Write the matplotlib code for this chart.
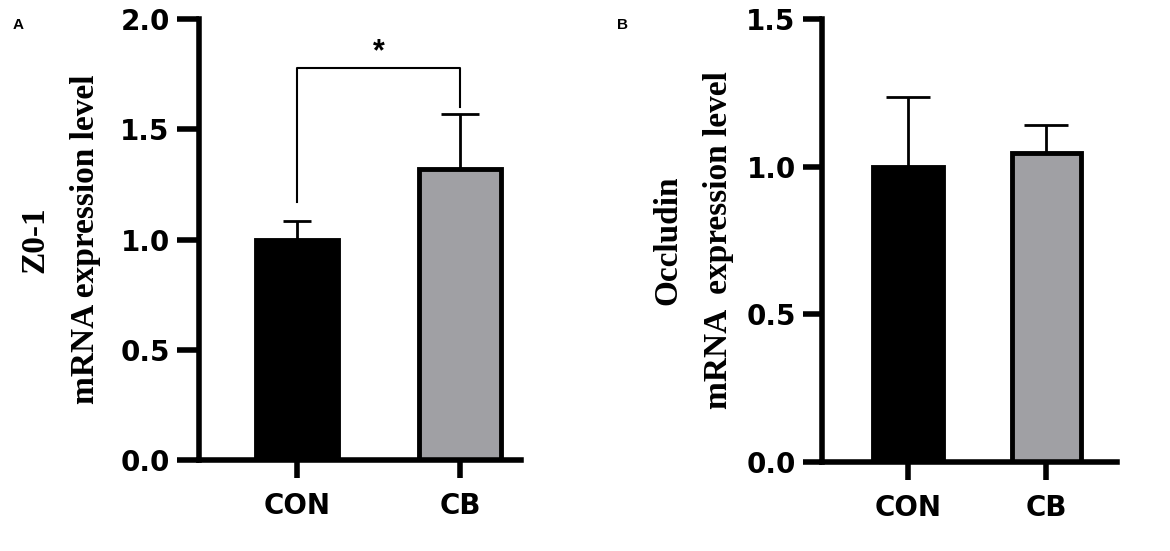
import numpy as np
import matplotlib.pyplot as plt

# data
groups = ["CON", "CB"]
zo1_mean = [1.00, 1.32]
zo1_err = [0.084, 0.25]
occ_mean = [1.00, 1.048]
occ_err = [0.237, 0.092]

# significance bracket for panel A: (left leg end, right leg end, top)
zo1_bracket = [1.17, 1.60, 1.78]
zo1_star = "*"

bar_colors = ["#000000", "#a0a0a4"]

fig = plt.figure(figsize=(11.7, 5.51), dpi=100)
axA = fig.add_axes([0.170, 0.165, 0.275, 0.8005])
axB = fig.add_axes([0.7026, 0.1615, 0.2521, 0.804])

tick_font = dict(family="DejaVu Sans", weight="bold", size=20)
label_font = dict(family="Liberation Serif", weight="bold", size=24)


def draw_panel(ax, means, errs, ylim, yticks, xlim, ylabel, capsizes, lpad, ytl):
    x = np.arange(len(groups))
    ax.bar(x, means, width=0.5, color=bar_colors, edgecolor="black",
           linewidth=3.5, zorder=2)
    for xi, m, e, cs in zip(x, means, errs, capsizes):
        ax.errorbar(xi, m, yerr=[[0], [e]], fmt="none", ecolor="black",
                    elinewidth=2, capsize=cs, capthick=2, zorder=1)
    ax.set_ylim(*ylim)
    ax.set_xlim(*xlim)
    ax.set_yticks(yticks)
    ax.set_yticklabels([f"{v:.1f}" for v in yticks], fontdict=tick_font)
    ax.set_xticks(x)
    ax.set_xticklabels(groups, fontdict=tick_font)
    for s in ["top", "right"]:
        ax.spines[s].set_visible(False)
    for s in ["left", "bottom"]:
        ax.spines[s].set_linewidth(4)
    ax.tick_params(axis="y", length=ytl, width=4, pad=5)
    ax.tick_params(axis="x", length=13, width=4, pad=10)
    ax.set_ylabel(ylabel, fontdict=label_font, linespacing=1.8, labelpad=lpad)


draw_panel(axA, zo1_mean, zo1_err, (0, 2.0), [0.0, 0.5, 1.0, 1.5, 2.0],
           (-0.6, 1.37), "Z0-1\nmRNA expression level", [10, 14], 14, 16)
draw_panel(axB, occ_mean, occ_err, (0, 1.5), [0.0, 0.5, 1.0, 1.5],
           (-0.62, 1.51), "Occludin\nmRNA  expression level", [16, 16], 9, 14)

# significance bracket
l_end, r_end, top = zo1_bracket
axA.plot([0, 0, 1, 1], [l_end, top, top, r_end], color="black", lw=1.5,
         clip_on=False)
axA.text(0.5, top + 0.0, zo1_star, ha="center", va="bottom",
         fontsize=22, fontweight="bold", family="Liberation Sans")

fig.text(0.011, 0.955, "A", fontsize=11, fontweight="bold",
         family="Liberation Sans", va="center")
fig.text(0.527, 0.955, "B", fontsize=11, fontweight="bold",
         family="Liberation Sans", va="center")

fig.savefig("out.png", dpi=100)
